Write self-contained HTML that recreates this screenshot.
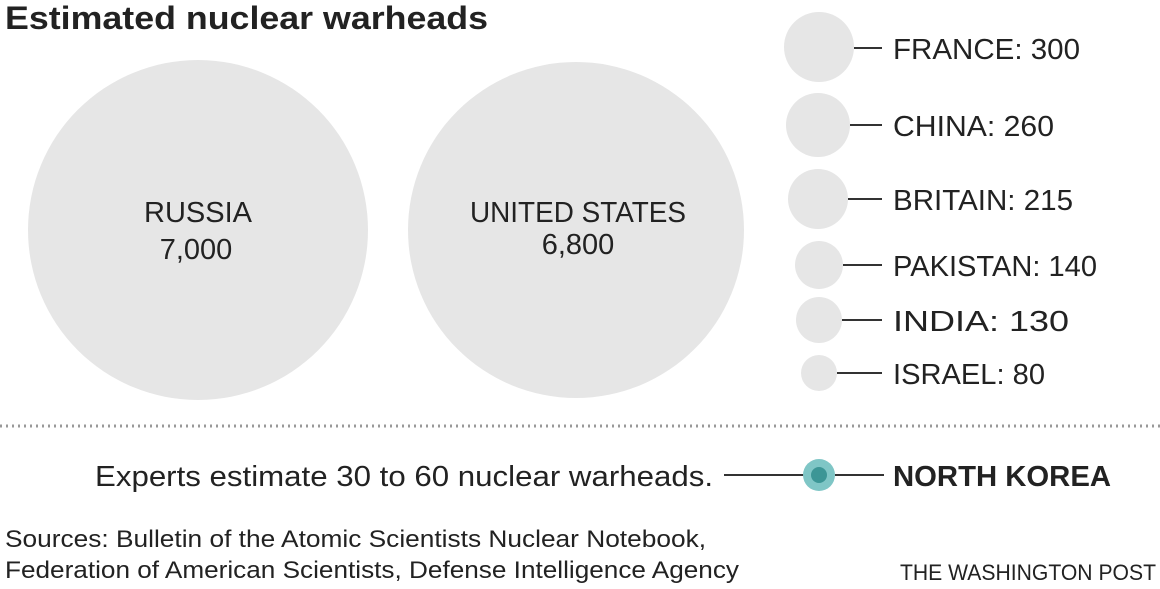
<!DOCTYPE html>
<html><head><meta charset="utf-8"><style>
html,body{margin:0;padding:0;background:#fff;}
svg{display:block;font-family:"Liberation Sans",sans-serif;}
</style></head><body>
<svg width="1160" height="589" viewBox="0 0 1160 589">
<text x="5" y="29" font-size="32" font-weight="bold" fill="#222" textLength="483" lengthAdjust="spacingAndGlyphs">Estimated nuclear warheads</text>
<circle cx="198" cy="230" r="170" fill="#e6e6e6"/>
<circle cx="576" cy="230" r="168" fill="#e6e6e6"/>
<g font-size="29" fill="#222" text-anchor="middle">
<text x="198" y="222">RUSSIA</text>
<text x="196" y="259">7,000</text>
<text x="578" y="222" textLength="216" lengthAdjust="spacingAndGlyphs">UNITED STATES</text>
<text x="578" y="254">6,800</text>
</g>
<g fill="#e6e6e6">
<circle cx="819" cy="47" r="35"/>
<circle cx="818" cy="125" r="32"/>
<circle cx="818" cy="199" r="30"/>
<circle cx="819" cy="265" r="24"/>
<circle cx="819" cy="320" r="23"/>
<circle cx="819" cy="373" r="18"/>
</g>
<g stroke="#333" stroke-width="2">
<line x1="854" y1="48" x2="882" y2="48"/>
<line x1="850" y1="125" x2="882" y2="125"/>
<line x1="848" y1="199" x2="882" y2="199"/>
<line x1="843" y1="265" x2="882" y2="265"/>
<line x1="842" y1="320" x2="882" y2="320"/>
<line x1="837" y1="373" x2="882" y2="373"/>
<line x1="724" y1="475" x2="805" y2="475"/>
<line x1="835" y1="475" x2="884" y2="475"/>
</g>
<g font-size="29" fill="#222">
<text x="893" y="59" textLength="187" lengthAdjust="spacingAndGlyphs">FRANCE: 300</text>
<text x="893" y="136" textLength="161" lengthAdjust="spacingAndGlyphs">CHINA: 260</text>
<text x="893" y="210" textLength="180" lengthAdjust="spacingAndGlyphs">BRITAIN: 215</text>
<text x="893" y="276" textLength="204" lengthAdjust="spacingAndGlyphs">PAKISTAN: 140</text>
<text x="893" y="331" textLength="176" lengthAdjust="spacingAndGlyphs">INDIA: 130</text>
<text x="893" y="384" textLength="152" lengthAdjust="spacingAndGlyphs">ISRAEL: 80</text>
</g>
<line x1="0" y1="426" x2="1160" y2="426" stroke="#999" stroke-width="3" stroke-dasharray="2,4"/>
<text x="95" y="486" font-size="29" fill="#222" textLength="618" lengthAdjust="spacingAndGlyphs">Experts estimate 30 to 60 nuclear warheads.</text>
<circle cx="819" cy="475" r="16" fill="#7fc6c6"/>
<circle cx="819" cy="475" r="8" fill="#3c9696"/>
<text x="893" y="486" font-size="29" font-weight="bold" fill="#222" textLength="218" lengthAdjust="spacingAndGlyphs">NORTH KOREA</text>
<text x="5" y="547" font-size="24" fill="#222" textLength="701" lengthAdjust="spacingAndGlyphs">Sources: Bulletin of the Atomic Scientists Nuclear Notebook,</text>
<text x="5" y="578" font-size="24" fill="#222" textLength="734" lengthAdjust="spacingAndGlyphs">Federation of American Scientists, Defense Intelligence Agency</text>
<text x="900" y="580" font-size="22" fill="#222" textLength="256" lengthAdjust="spacingAndGlyphs">THE WASHINGTON POST</text>
</svg>
</body></html>
